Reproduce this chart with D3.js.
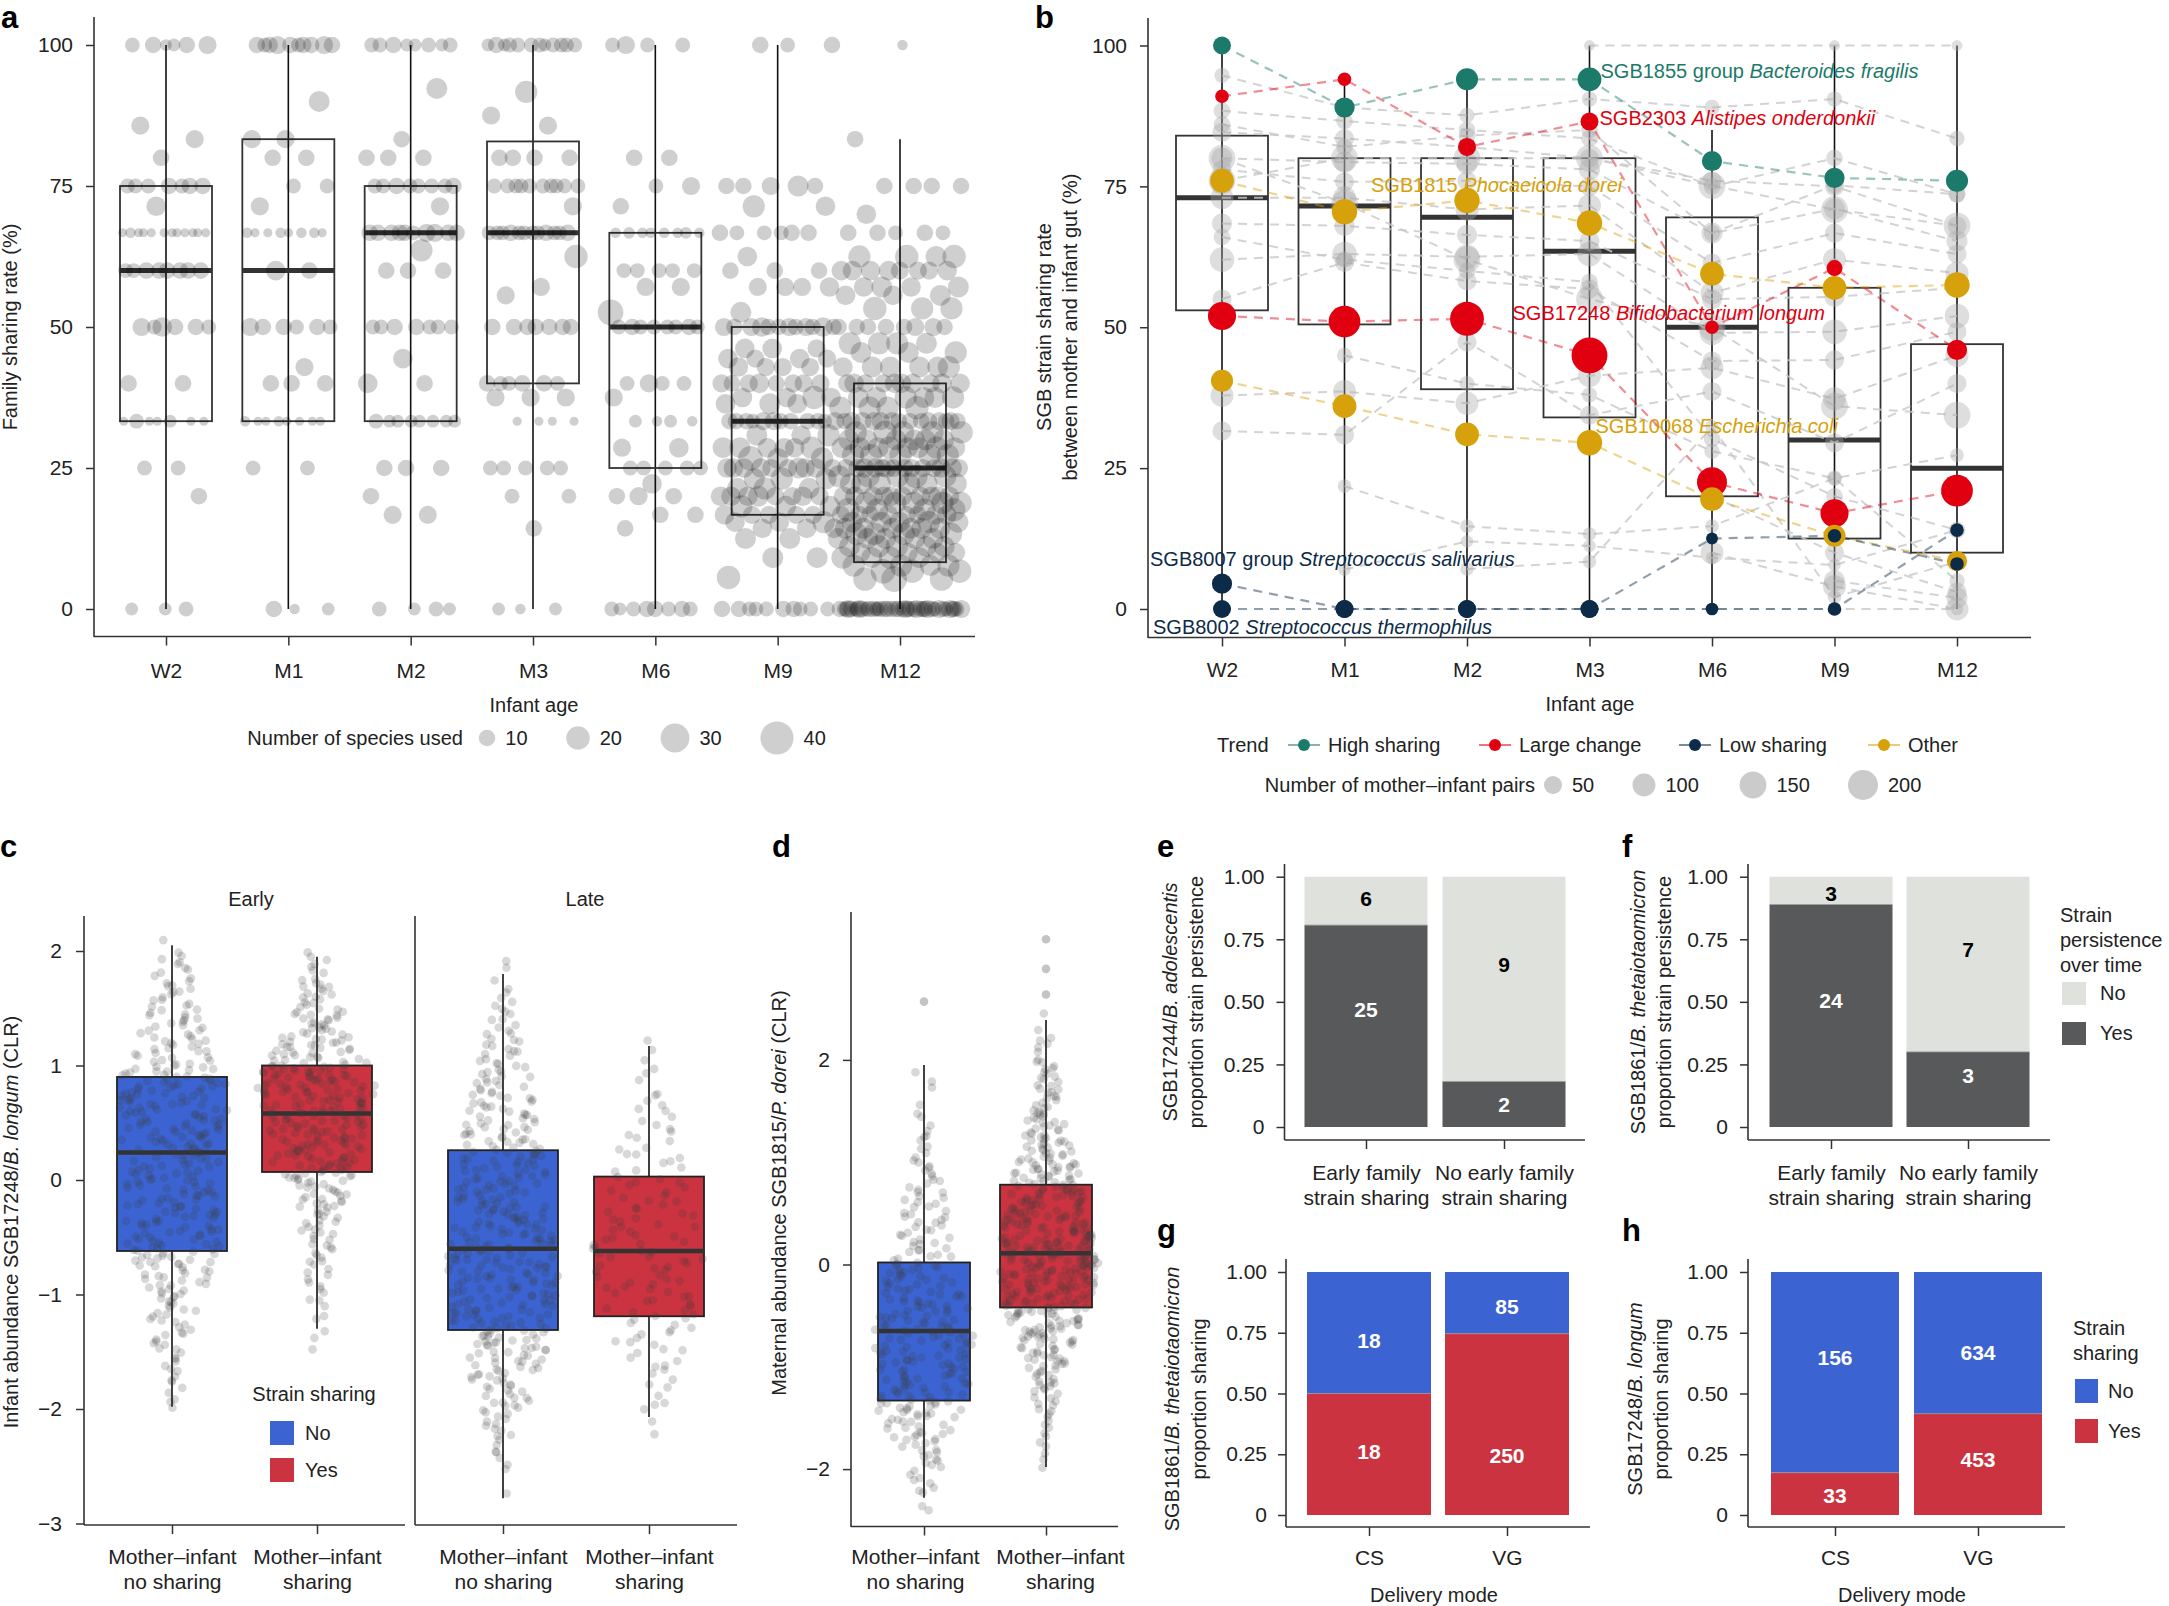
<!DOCTYPE html>
<html><head><meta charset="utf-8">
<script src="https://cdn.jsdelivr.net/npm/d3@7"></script>
<style>
html,body{margin:0;padding:0;background:#fff;}
svg{display:block;}
</style></head><body>
<svg id="fig" width="2169" height="1606"></svg>
<script>
// ===================== DATA =====================
// Panel a: family sharing rate per infant age
const ageCats = ["W2","M1","M2","M3","M6","M9","M12"];
const famBox = [ // [whiskerLow, q1, median, q3, whiskerHigh]
  [0,33.3,60,75,100],[0,33.3,60,83.3,100],[0,33.3,66.7,75,100],[0,40,66.7,82.9,100],
  [0,25,50,66.7,100],[0,16.7,33.3,50,100],[0,8.3,25,40,83.3]];
// each row: [sharing rate, [number of species used for each family at that rate]]
const famW2 = [[100,[5,8,10,10,12,6]],[85.7,[12]],[83.3,[12]],[80,[10]],[75,[8,8,8,10,10,8,10]],[71.4,[14]],
  [66.7,[3,3,3,3,3,4,3,3,3,3,3,3]],[60,[10,8,10,10,10,10,8,10]],[50,[8,8,10,12,10,14]],[40,[10,10]],
  [33.3,[3,3,6,8,3,3,3]],[25,[8,8]],[20,[10]],[0,[6,6,8]]];
const famM1 = [[100,[10,10,12,10,10,10,12,10,8,8]],[90,[16]],[83.3,[12,12]],[80,[10,10]],[75,[8,8]],[71.4,[12]],
  [66.7,[4,4,4,4,3,3,3,3]],[60,[10,14]],[50,[8,8,10,10,10,12]],[42.9,[12]],[40,[10,10,10]],
  [33.3,[3,3,4,4,3,3,3,3]],[25,[8,8]],[0,[10,6,4]]];
const famM2 = [[100,[6,6,8,8,10,8,6,8]],[92.3,[16]],[83.3,[10]],[80,[10,10,10]],[75,[8,8,8,8,10,10,8,8]],[71.4,[12]],
  [66.7,[10,10,12,10,10,8,10,12,10,10]],[63.6,[18]],[60,[10,10,10]],[50,[8,8,10,8,10,8,8]],[44.4,[14]],
  [40,[14,10]],[33.3,[6,6,6,8,6,6,6,6]],[25,[10,10,10]],[20,[10]],[16.7,[12,12]],[0,[6,6,8,8]]];
const famM3 = [[100,[6,6,8,8,8,10,8,8,8,8,6,8]],[91.7,[18]],[87.5,[12]],[85.7,[12]],[80,[10,10,10,10]],
  [75,[8,8,8,8,8,8,8,8,8,8]],[71.4,[12]],[66.7,[8,8,8,8,8,10,10,10,8,8,8,8]],[62.5,[20]],[57.1,[12]],
  [55.6,[12]],[50,[10,10,10,10,10,10,10]],[40,[8,8,10,10,10,8]],[37.5,[12,12,12]],[33.3,[3,3,3,3]],
  [25,[8,8,8,8,8]],[20,[8,8]],[14.3,[10]],[0,[6,6,4]]];
const famM6 = [[100,[12,8,8,8]],[80,[10,10]],[75,[12,8]],[71.4,[10]],[66.7,[4,4,4,4,5,5,4,4]],[60,[8,8,8,8,8]],
  [57.1,[12,12]],[52.6,[24]],[50,[8,10,10,8,8,8,8,8]],[40,[8,8,8,12]],[37.5,[12]],[33.3,[6,6,4,4]],
  [28.6,[12,14]],[25,[8,8,8,8,8]],[22.2,[14]],[20,[10,10,12]],[16.7,[10,10]],[14.3,[10]],
  [0,[10,10,8,8,8,8,10,6]]];
const famM9 = [[100,[10,10,8]],[75,[10,10,12,10,16]],[71.4,[18,14]],[66.7,[8,8,10,8,10,10]],[62.5,[14]],
  [60,[10,10,10]],[57.1,[12,12,14,12]],[52.6,[16]],[50,[10,10,12,10,12,14,10,10,12,14,10,12]],
  [46.2,[14,12,14]],[44.4,[14,14,12,12]],[42.9,[12,14,12,12]],[40,[12,12,12,12,10,10,12,14]],
  [37.5,[14,14,14,20]],[36.4,[16,14,14]],[33.3,[8,8,10,10,10,12,12,10,10,10,12,10]],[30.8,[14,16,18]],
  [28.6,[14,16,18,14,16,14]],[26.7,[22,18,16]],[25,[14,14,14,12,12,14,14,12,14,16]],[23.1,[16,16,18]],
  [21.4,[16,16,18]],[20,[14,12,14,12,12,14,14,16]],[18.2,[16,16,18]],[16.7,[12,12,14,12,12]],
  [15.4,[18,14,14]],[14.3,[14,14,14]],[12.5,[16,16]],[9.1,[16,16]],[5.6,[20]],
  [0,[8,8,8,10,10,8,8,10,10,8]]];
const famM12 = [[100,[4]],[83.3,[10]],[75,[10,10,10,10]],[70,[14]],[66.7,[8,8,10,10,10]],[62.5,[20,20,18,16]],
  [60,[14,14,12,14,14,12,14,12]],[57.1,[16,16,14,14]],[55.6,[16,14,14]],[53.3,[18,20,18]],
  [50,[10,10,12,10,10,12,10,10]],[47.1,[18,18,16,18]],[45.5,[18,16,16]],[42.9,[16,16,14,16,16,18]],
  [40,[14,14,12,12,14,14,12,14,14,12]],[37.5,[16,16,18,18,16,16]],[35.7,[18,18,20,18]],
  [33.3,[10,10,12,12,12,10,10,12,12,12,10,10,12,12]],[31.3,[18,18,18,20,18]],[30,[16,16,16,16,16,16]],
  [28.6,[16,16,16,16,18,18,16,16]],[27.3,[18,18,18,18,18]],[25,[12,12,12,14,14,12,12,12,14,14,12,12,12,14]],
  [23.5,[18,20,18,18,18]],[22.2,[16,16,18,16,18,16]],[20,[14,14,14,14,14,14,14,14,14,14]],
  [18.8,[18,18,18,18,18]],[17.6,[20,18,18,20]],[16.7,[12,12,14,14,12,12,12,14]],[15.4,[16,16,18,16,16]],
  [14.3,[16,16,16,16,16,16]],[13.3,[18,18,18,18]],[12.5,[16,16,16,16,16]],[11.1,[16,18,16,16,18]],
  [10,[14,14,14,14]],[9.1,[18,18,16,16]],[7.7,[18,18,18,16]],[6.7,[22,20,20]],[5.3,[20,20,24]],
  [0,[10,10,8,10,12,10,8,10,10,12,10,8,10,10,12,10,8,10,10,12,10,8,10,10,12,10,8,10,10,12,10,8,10,10,12,10,8,10,10,12]]];
const famPts = [famW2, famM1, famM2, famM3, famM6, famM9, famM12];
const speciesLegend = [10, 20, 30, 40];
const pctTicks = [0, 25, 50, 75, 100];

// Panel b: SGB strain sharing rate
const sgbBox = [[0,53,73,84,100],[0,50.5,71.5,80,94],[0,39,69.5,80,94],[0,34,63.5,80,100],
  [0,20,50,69.5,85],[0,12.5,30,57,100],[0,10,25,47,100]];
const trendNames = ["High sharing","Large change","Low sharing","Other"];
const trendColors = ["#1b7a69","#e0000f","#0c2b48","#d6a10a"];
const hlNames = ["SGB1855 group ","SGB2303 ","SGB1815 ","SGB17248 ","SGB10068 ","SGB8007 group ","SGB8002 "];
const hlSpecies = ["Bacteroides fragilis","Alistipes onderdonkii","Phocaeicola dorei","Bifidobacterium longum",
  "Escherichia coli","Streptococcus salivarius","Streptococcus thermophilus"];
const hlTrend = [0,1,3,1,3,2,2];
const hlVals = [
  [100,89,94,94,79.5,76.5,76],
  [91,94,82,86.5,50,60.5,46],
  [76,70.5,72.5,68.5,59.5,57,57.5],
  [52,51,51.5,45,22.5,17,21],
  [40.5,36,31,29.5,19.5,13,8.5],
  [4.5,0,0,0,12.5,13,8],
  [0,0,0,0,0,0,14]];
const hlPairs = [
  [50,70,90,110,70,70,90],
  [20,20,50,50,20,35,70],
  [110,130,130,130,110,110,130],
  [170,230,270,310,200,170,230],
  [90,110,110,130,110,90,70],
  [70,50,50,50,12,20,20],
  [50,50,50,50,15,20,20]];
const greyVals = [
  [94.7,89,87.6,90.5,89,90.5,83.5],[88.4,86.6,85,83.5,75,80,73.6],[84.6,83.5,82,80,76,75,68],
  [80,79.3,79,78,66.7,71,65.3],[78,75.8,76,75,61.4,66.7,63],[73,73,70.9,71.6,56.1,62,59.6],
  [68.4,68,66.4,65.3,55,55.4,57],[62,63,62.5,63,49,49.2,52],[55,61.5,58.2,56.8,44,44.2,49.2],
  [37.9,38.6,36.5,41.4,42.8,37.3,45],[31.6,30.9,47.4,34.4,38.6,29.5,40],[null,null,null,100,null,100,100],
  [null,21.8,14.7,13.3,14.7,23.2,27.3],[null,7,12,11.2,9.1,7.8,14],[null,null,7.1,8.4,32.3,2.1,8.4],
  [null,null,null,0,0,0,0],[76,80,80,80,75.1,70.9,68],[86,82,84,85,66.7,75.2,73.6],
  [66,62,60,58,30.2,20,14],[null,45,40,38,28,23.2,5],[null,null,null,null,20,10,3],
  [80,72,62,55,50,36,34.4],[null,null,null,null,null,5,2],[null,null,null,null,10,4,0]];
const greyPairs = [30,40,60,80,60,100,70,120,60,100,60,8,20,15,20,15,150,40,40,30,60,150,80,100];
const pairsLegend = [50, 100, 150, 200];

// Panel c: infant abundance SGB17248 (CLR) — histograms (bin width 0.25) read from the beeswarms
const sharingCats = ["Mother–infant\nno sharing", "Mother–infant\nsharing"];
const facetNames = ["Early", "Late"];
const boxEarly = [[-1.98,-0.62,0.24,0.9,2.05],[-1.3,0.07,0.58,1.0,1.95]];
const boxLate = [[-2.78,-1.31,-0.6,0.26,1.8],[-2.07,-1.19,-0.62,0.03,1.17]];
const earlyNoStart = -2.0, earlyNoCounts = [6,9,12,16,22,30,28,28,28,32,34,34,22,18,14,10,1];
const earlyYesStart = -1.5, earlyYesCounts = [3,5,8,12,16,24,36,40,44,50,34,24,16,8];
const lateNoStart = -2.75, lateNoCounts = [2,6,12,18,24,32,34,36,36,32,30,28,26,22,18,14,10,6,2];
const lateYesStart = -2.25, lateYesCounts = [3,5,8,11,14,15,16,14,12,10,8,7,4,3];
const clrTicksC = [-3,-2,-1,0,1,2];

// Panel d: maternal abundance SGB1815 (CLR)
const boxD = [[-2.28,-1.33,-0.65,0.02,1.95],[-1.98,-0.42,0.11,0.78,2.39]];
const dNoStart = -2.5, dNoCounts = [2,8,12,20,28,26,28,28,24,22,16,14,12,10,7,5,2,2];
const dYesStart = -2.0, dYesCounts = [4,6,10,16,24,34,44,52,56,44,38,34,26,20,14,12,6,2];
const dNoOutliers = [2.57], dYesOutliers = [2.64, 2.89, 3.18];
const clrTicksD = [-2, 0, 2];

// Panels e-h: stacked proportions (counts)
const persistCats = ["Early family\nstrain sharing", "No early family\nstrain sharing"];
const persistE_yes = [25, 2], persistE_no = [6, 9];
const persistF_yes = [24, 3], persistF_no = [3, 7];
const deliveryCats = ["CS", "VG"];
const shareG_yes = [18, 250], shareG_no = [18, 85];
const shareH_yes = [33, 453], shareH_no = [156, 634];
const propTicks = [0, 0.25, 0.5, 0.75, 1];
const propLabels = ["0", "0.25", "0.50", "0.75", "1.00"];

// ===================== DRAWING =====================
const FONT = "'Liberation Sans', Arial, Helvetica, sans-serif";
const INK = "#222", AX = "#333";
const BLUE = "#3b64d2", RED = "#cb3340", LIGHT = "#dfe1dc", DARK = "#58595b";
const svg = d3.select("#fig").attr("font-family", FONT);
svg.append("rect").attr("width", 2169).attr("height", 1606).attr("fill", "#fff");

const frac = v => v - Math.floor(v);
const hash = i => frac(Math.sin(i * 12.9898 + 78.233) * 43758.5453); // deterministic jitter only

function txt(x, y, s, o = {}) {
  const t = svg.append("text").attr("x", x).attr("y", y).text(s)
    .attr("font-size", o.fs || 20).attr("fill", o.fill || INK);
  if (o.anchor) t.attr("text-anchor", o.anchor);
  if (o.bold) t.attr("font-weight", "bold");
  if (o.italic) t.attr("font-style", "italic");
  return t;
}
function panelLetter(x, y, s) { txt(x, y, s, {fs: 31, bold: true, fill: "#000"}); }
function rotLabel(bx, cy, parts, fs = 20) {
  const t = svg.append("text").attr("transform", `translate(${bx},${cy}) rotate(-90)`)
    .attr("text-anchor", "middle").attr("font-size", fs).attr("fill", INK);
  parts.forEach(p => t.append("tspan").text(p[0]).attr("font-style", p[1] ? "italic" : null));
}
function yAxis(x, scale, vals, fmt, y0, y1, pad, fs = 21) {
  const ax = d3.axisLeft(scale).tickValues(vals).tickSize(8).tickPadding(pad).tickSizeOuter(0);
  if (fmt) ax.tickFormat(fmt);
  const g = svg.append("g").attr("transform", `translate(${x},0)`).call(ax);
  g.attr("font-family", FONT).attr("font-size", fs);
  g.select(".domain").remove();
  g.selectAll(".tick line").attr("stroke", AX).attr("stroke-width", 1.5);
  g.selectAll(".tick text").attr("fill", INK);
  g.append("line").attr("y1", y0).attr("y2", y1).attr("stroke", AX).attr("stroke-width", 1.6);
}
function xAxis(y, scale, x0, x1, baseRel, fs = 21, lineH = 25, dxs = null) {
  const g = svg.append("g").attr("transform", `translate(0,${y})`)
    .call(d3.axisBottom(scale).tickSize(9).tickSizeOuter(0));
  g.attr("font-family", FONT).attr("font-size", fs);
  g.select(".domain").remove();
  g.selectAll(".tick line").attr("stroke", AX).attr("stroke-width", 1.5);
  g.selectAll(".tick text").attr("fill", INK).attr("dy", null).attr("y", baseRel).each(function (d, ti) {
    const lines = String(d).split("\n");
    const t = d3.select(this); t.text(null);
    const dx = dxs ? dxs[ti] : 0;
    lines.forEach((l, i) => t.append("tspan").attr("x", dx).attr("dy", i === 0 ? 0 : lineH).text(l));
  });
  g.append("line").attr("x1", x0).attr("x2", x1).attr("stroke", AX).attr("stroke-width", 1.6);
}
function boxplot(g, cx, w, b, y, o = {}) {
  g.append("line").attr("x1", cx).attr("x2", cx).attr("y1", y(b[0])).attr("y2", y(b[4]))
    .attr("stroke", o.wcol || "#111").attr("stroke-width", 1.6);
  g.append("rect").attr("x", cx - w / 2).attr("width", w).attr("y", y(b[3])).attr("height", y(b[1]) - y(b[3]))
    .attr("fill", o.fill || "none").attr("stroke", o.stroke || AX).attr("stroke-width", o.sw || 1.8);
  g.append("line").attr("x1", cx - w / 2).attr("x2", cx + w / 2).attr("y1", y(b[2])).attr("y2", y(b[2]))
    .attr("stroke", "#333").attr("stroke-width", o.mw || 5);
}

// ---------- Panel a ----------
{
  panelLetter(1, 28, "a");
  const x = d3.scalePoint().domain(ageCats).range([166, 900]);
  const y = d3.scaleLinear().domain([0, 100]).range([609, 45]);
  const r = d3.scaleSqrt().domain([0, 40]).range([0, 16.6]);
  const hw = [44, 44, 46, 46, 46, 58, 62];
  const g = svg.append("g");
  famBox.forEach((b, i) => boxplot(g, x(ageCats[i]), 92, b, y));
  const pg = svg.append("g");
  famPts.forEach((rows, ci) => {
    let k = 0;
    rows.forEach(([v, sizes]) => sizes.forEach(n => {
      const off = (frac(0.5 + k * 0.6180339887 + ci * 0.17) - 0.5) * 2 * hw[ci];
      pg.append("circle").attr("cx", x(ageCats[ci]) + off).attr("cy", y(v)).attr("r", r(n))
        .attr("fill", "#000").attr("fill-opacity", 0.19);
      k++;
    }));
  });
  yAxis(94, y, pctTicks, d3.format("d"), 17, 637, 13);
  xAxis(636.5, x, 94, 975, 41);
  rotLabel(17, 327, [["Family sharing rate (%)", false]]);
  txt(534, 712, "Infant age", {anchor: "middle"});
  txt(463, 745, "Number of species used", {anchor: "end"});
  const lx = [487, 578, 675, 777];
  speciesLegend.forEach((n, i) => {
    svg.append("circle").attr("cx", lx[i]).attr("cy", 738).attr("r", r(n)).attr("fill", "#000").attr("fill-opacity", 0.19);
    txt(lx[i] + r(n) + 10, 745, String(n));
  });
}

// ---------- Panel b ----------
{
  panelLetter(1035, 28, "b");
  const x = d3.scalePoint().domain(ageCats).range([1222, 1957]);
  const y = d3.scaleLinear().domain([0, 100]).range([609, 45.5]);
  const rLin = d3.scaleLinear().domain([0, Math.sqrt(200)]).range([3, 15]);
  const r = n => rLin(Math.sqrt(n));
  const g = svg.append("g");
  sgbBox.forEach((b, i) => boxplot(g, x(ageCats[i]), 92, b, y, {mw: 5}));
  const line = d3.line().x(d => x(d[0])).y(d => y(d[1]));
  const lg = svg.append("g");
  greyVals.forEach(vals => {
    const pts = vals.map((v, i) => [ageCats[i], v]).filter(d => d[1] !== null);
    lg.append("path").attr("d", line(pts)).attr("fill", "none").attr("stroke", "#c8c8c8")
      .attr("stroke-width", 2).attr("stroke-dasharray", "9,7").attr("stroke-opacity", 0.8);
  });
  greyVals.forEach((vals, s) => vals.forEach((v, i) => {
    if (v === null) return;
    lg.append("circle").attr("cx", x(ageCats[i])).attr("cy", y(v)).attr("r", r(greyPairs[s]))
      .attr("fill", "#a8a8a8").attr("fill-opacity", 0.38);
  }));
  const hg = svg.append("g");
  hlVals.forEach((vals, s) => {
    hg.append("path").attr("d", line(vals.map((v, i) => [ageCats[i], v]))).attr("fill", "none")
      .attr("stroke", trendColors[hlTrend[s]]).attr("stroke-opacity", 0.45).attr("stroke-width", 2.2)
      .attr("stroke-dasharray", "9,7");
  });
  hlVals.forEach((vals, s) => vals.forEach((v, i) => {
    hg.append("circle").attr("cx", x(ageCats[i])).attr("cy", y(v)).attr("r", r(hlPairs[s][i]))
      .attr("fill", trendColors[hlTrend[s]]);
  }));
  // annotations (placed next to their series)
  const ann = [[x("M3") + 11, y(94) - 1], [x("M3") + 10, y(86.5) + 3], [x("M2") - 96, y(72.5) - 8],
               [x("M3") - 77, y(52) + 4], [x("M3") + 6, y(29.5) - 10], [x("W2") - 72, y(4.5) - 18],
               [x("W2") - 69, y(0) + 25]];
  hlNames.forEach((nm, s) => {
    const t = svg.append("text").attr("x", ann[s][0]).attr("y", ann[s][1]).attr("font-size", 20)
      .attr("fill", trendColors[hlTrend[s]]);
    t.append("tspan").text(nm);
    t.append("tspan").text(hlSpecies[s]).attr("font-style", "italic");
  });
  yAxis(1148, y, pctTicks, d3.format("d"), 18, 638, 13);
  xAxis(637.5, x, 1148, 2031, 39);
  rotLabel(1051, 327, [["SGB strain sharing rate", false]]);
  rotLabel(1077, 327, [["between mother and infant gut (%)", false]]);
  txt(1590, 711, "Infant age", {anchor: "middle"});
  // legend: trend
  txt(1217, 752, "Trend");
  const mx = [1304, 1495, 1695, 1884];
  trendNames.forEach((nm, i) => {
    svg.append("line").attr("x1", mx[i] - 16).attr("x2", mx[i] + 16).attr("y1", 745).attr("y2", 745)
      .attr("stroke", trendColors[i]).attr("stroke-opacity", 0.55).attr("stroke-width", 2);
    svg.append("circle").attr("cx", mx[i]).attr("cy", 745).attr("r", 6).attr("fill", trendColors[i]);
    txt(mx[i] + 24, 752, nm);
  });
  txt(1535, 792, "Number of mother–infant pairs", {anchor: "end"});
  const px = [1553, 1644, 1753, 1863];
  pairsLegend.forEach((n, i) => {
    svg.append("circle").attr("cx", px[i]).attr("cy", 785).attr("r", r(n)).attr("fill", "#a8a8a8").attr("fill-opacity", 0.6);
    txt(px[i] + r(n) + 10, 792, String(n));
  });
}

// ---------- beeswarm helper (panels c, d) ----------
let swarmIdx = 0;
function swarm(g, start, counts, cx, y, hwMax) {
  const maxC = d3.max(counts);
  const dens = v => { // linear interpolation of bin counts at value v
    const p = (v - start) / 0.25 - 0.5;
    const k0 = Math.max(0, Math.min(counts.length - 1, Math.floor(p)));
    const k1 = Math.min(counts.length - 1, k0 + 1);
    const t = Math.max(0, Math.min(1, p - k0));
    return counts[k0] * (1 - t) + counts[k1] * t;
  };
  counts.forEach((c, k) => {
    for (let j = 0; j < c; j++) {
      swarmIdx++;
      const v = start + 0.25 * (k + (j + hash(swarmIdx * 3 + 1)) / c);
      const hw = hwMax * Math.max(0.18, dens(v) / maxC);
      const off = (hash(swarmIdx * 7 + 2) - 0.5) * 2 * hw;
      g.append("circle").attr("cx", cx + off).attr("cy", y(v)).attr("r", 4.3)
        .attr("fill", "#3a3a3a").attr("fill-opacity", 0.2);
    }
  });
}

// ---------- Panel c ----------
{
  panelLetter(0, 857, "c");
  const y = d3.scaleLinear().domain([0, 1]).range([1180, 1065.5]);
  const xE = d3.scalePoint().domain(sharingCats).range([172, 317]);
  const xL = d3.scalePoint().domain(sharingCats).range([503, 649]);
  const fills = [BLUE, RED];
  const g = svg.append("g");
  boxEarly.forEach((b, i) => boxplot(g, xE(sharingCats[i]), 110, b, y, {fill: fills[i], stroke: "#222", mw: 4.5}));
  boxLate.forEach((b, i) => boxplot(g, xL(sharingCats[i]), 110, b, y, {fill: fills[i], stroke: "#222", mw: 4.5}));
  swarm(g, earlyNoStart, earlyNoCounts, xE(sharingCats[0]), y, 56);
  swarm(g, earlyYesStart, earlyYesCounts, xE(sharingCats[1]), y, 62);
  swarm(g, lateNoStart, lateNoCounts, xL(sharingCats[0]), y, 56);
  swarm(g, lateYesStart, lateYesCounts, xL(sharingCats[1]), y, 58);
  yAxis(84, y, clrTicksC, d3.format("d"), 916, 1525, 14);
  svg.append("line").attr("x1", 415).attr("x2", 415).attr("y1", 916).attr("y2", 1525).attr("stroke", AX).attr("stroke-width", 1.6);
  xAxis(1525, xE, 84, 405, 38.5);
  xAxis(1525, xL, 415, 737, 38.5);
  txt(251, 906, facetNames[0], {anchor: "middle"});
  txt(585, 906, facetNames[1], {anchor: "middle"});
  rotLabel(18, 1222, [["Infant abundance SGB17248/", false], ["B. longum", true], [" (CLR)", false]]);
  txt(314, 1401, "Strain sharing", {anchor: "middle"});
  svg.append("rect").attr("x", 270).attr("y", 1421).attr("width", 24).attr("height", 24).attr("fill", BLUE);
  svg.append("rect").attr("x", 270).attr("y", 1458).attr("width", 24).attr("height", 24).attr("fill", RED);
  txt(305, 1440, "No");
  txt(305, 1477, "Yes");
}

// ---------- Panel d ----------
{
  panelLetter(772, 857, "d");
  const y = d3.scaleLinear().domain([0, 1]).range([1264.5, 1162.2]);
  const x = d3.scalePoint().domain(sharingCats).range([924, 1046]);
  const g = svg.append("g");
  boxplot(g, x(sharingCats[0]), 92, boxD[0], y, {fill: BLUE, stroke: "#222", mw: 4.5});
  boxplot(g, x(sharingCats[1]), 92, boxD[1], y, {fill: RED, stroke: "#222", mw: 4.5});
  swarm(g, dNoStart, dNoCounts, x(sharingCats[0]), y, 50);
  swarm(g, dYesStart, dYesCounts, x(sharingCats[1]), y, 55);
  dNoOutliers.forEach(v => g.append("circle").attr("cx", x(sharingCats[0])).attr("cy", y(v)).attr("r", 4.3).attr("fill", "#3a3a3a").attr("fill-opacity", 0.3));
  dYesOutliers.forEach(v => g.append("circle").attr("cx", x(sharingCats[1])).attr("cy", y(v)).attr("r", 4.3).attr("fill", "#3a3a3a").attr("fill-opacity", 0.3));
  yAxis(851, y, clrTicksD, d3.format("d"), 912, 1527, 13);
  xAxis(1526.5, x, 851, 1118, 37, 21, 25, [-9, 14]);
  rotLabel(786, 1193, [["Maternal abundance SGB1815/", false], ["P. dorei", true], [" (CLR)", false]]);
}

// ---------- stacked bars helper ----------
function stacked(opts) {
  const {cats, yes, no, axisX, xEnd, top, bottom, y, centers, w, yesCol, noCol, yesTxt, noTxt, pad, yesAt, noAt} = opts;
  const x = d3.scalePoint().domain(cats).range(centers);
  const g = svg.append("g");
  cats.forEach((c, i) => {
    const tot = yes[i] + no[i], fy = yes[i] / tot;
    g.append("rect").attr("x", x(c) - w / 2).attr("width", w).attr("y", y(1)).attr("height", y(fy) - y(1)).attr("fill", noCol);
    g.append("rect").attr("x", x(c) - w / 2).attr("width", w).attr("y", y(fy)).attr("height", y(0) - y(fy)).attr("fill", yesCol);
    g.append("line").attr("x1", x(c) - w / 2).attr("x2", x(c) + w / 2).attr("y1", y(fy)).attr("y2", y(fy))
      .attr("stroke", "#9a9a9a").attr("stroke-width", 1.2).attr("stroke-opacity", 0.6);
    txt(x(c), y(yesAt[i]) + 7, String(yes[i]), {anchor: "middle", bold: true, fill: yesTxt, fs: 21});
    txt(x(c), y(noAt[i]) + 7, String(no[i]), {anchor: "middle", bold: true, fill: noTxt, fs: 21});
  });
  yAxis(axisX, y, propTicks, (d, i) => propLabels[i], top, bottom, pad);
  xAxis(bottom, x, axisX, xEnd, opts.xBase);
}

// ---------- Panel e ----------
panelLetter(1157, 857, "e");
{
  const y = d3.scaleLinear().domain([0, 1]).range([1127, 876.7]);
  stacked({cats: persistCats, yes: persistE_yes, no: persistE_no, axisX: 1284.5, xEnd: 1585, top: 864, bottom: 1140,
    y, centers: [1366, 1504], w: 123, yesCol: DARK, noCol: LIGHT, yesTxt: "#fff", noTxt: "#000", pad: 12, xBase: 39.5,
    yesAt: [0.467, 0.088], noAt: [0.91, 0.646]});
  rotLabel(1177, 1002, [["SGB17244/", false], ["B. adolescentis", true]]);
  rotLabel(1203, 1002, [["proportion strain persistence", false]]);
}
// ---------- Panel f ----------
panelLetter(1622, 857, "f");
{
  const y = d3.scaleLinear().domain([0, 1]).range([1127, 876.7]);
  stacked({cats: persistCats, yes: persistF_yes, no: persistF_no, axisX: 1748, xEnd: 2050, top: 864, bottom: 1140,
    y, centers: [1831, 1968], w: 123, yesCol: DARK, noCol: LIGHT, yesTxt: "#fff", noTxt: "#000", pad: 12, xBase: 39.5,
    yesAt: [0.504, 0.203], noAt: [0.93, 0.706]});
  rotLabel(1645, 1002, [["SGB1861/", false], ["B. thetaiotaomicron", true]]);
  rotLabel(1671, 1002, [["proportion strain persistence", false]]);
  txt(2060, 922, "Strain");
  txt(2060, 947, "persistence");
  txt(2060, 972, "over time");
  svg.append("rect").attr("x", 2062).attr("y", 982).attr("width", 24).attr("height", 23).attr("fill", LIGHT);
  svg.append("rect").attr("x", 2062).attr("y", 1022).attr("width", 24).attr("height", 23).attr("fill", DARK);
  txt(2100, 1000, "No");
  txt(2100, 1040, "Yes");
}
// ---------- Panel g ----------
panelLetter(1157, 1241, "g");
{
  const y = d3.scaleLinear().domain([0, 1]).range([1515, 1272]);
  stacked({cats: deliveryCats, yes: shareG_yes, no: shareG_no, axisX: 1286, xEnd: 1590, top: 1259, bottom: 1527,
    y, centers: [1369, 1507], w: 124, yesCol: RED, noCol: BLUE, yesTxt: "#fff", noTxt: "#fff", pad: 11, xBase: 37.5,
    yesAt: [0.259, 0.243], noAt: [0.716, 0.856]});
  rotLabel(1179, 1399, [["SGB1861/", false], ["B. thetaiotaomicron", true]]);
  rotLabel(1206, 1399, [["proportion sharing", false]]);
  txt(1434, 1602, "Delivery mode", {anchor: "middle"});
}
// ---------- Panel h ----------
panelLetter(1622, 1241, "h");
{
  const y = d3.scaleLinear().domain([0, 1]).range([1515, 1272]);
  stacked({cats: deliveryCats, yes: shareH_yes, no: shareH_no, axisX: 1748, xEnd: 2065, top: 1259, bottom: 1527,
    y, centers: [1835, 1978], w: 128, yesCol: RED, noCol: BLUE, yesTxt: "#fff", noTxt: "#fff", pad: 12, xBase: 37.5,
    yesAt: [0.078, 0.226], noAt: [0.646, 0.667]});
  rotLabel(1642, 1399, [["SGB17248/", false], ["B. longum", true]]);
  rotLabel(1668, 1399, [["proportion sharing", false]]);
  txt(1902, 1602, "Delivery mode", {anchor: "middle"});
  txt(2073, 1335, "Strain");
  txt(2073, 1360, "sharing");
  svg.append("rect").attr("x", 2075).attr("y", 1379).attr("width", 23).attr("height", 24).attr("fill", BLUE);
  svg.append("rect").attr("x", 2075).attr("y", 1419).attr("width", 23).attr("height", 24).attr("fill", RED);
  txt(2108, 1398, "No");
  txt(2108, 1438, "Yes");
}
</script></body></html>
